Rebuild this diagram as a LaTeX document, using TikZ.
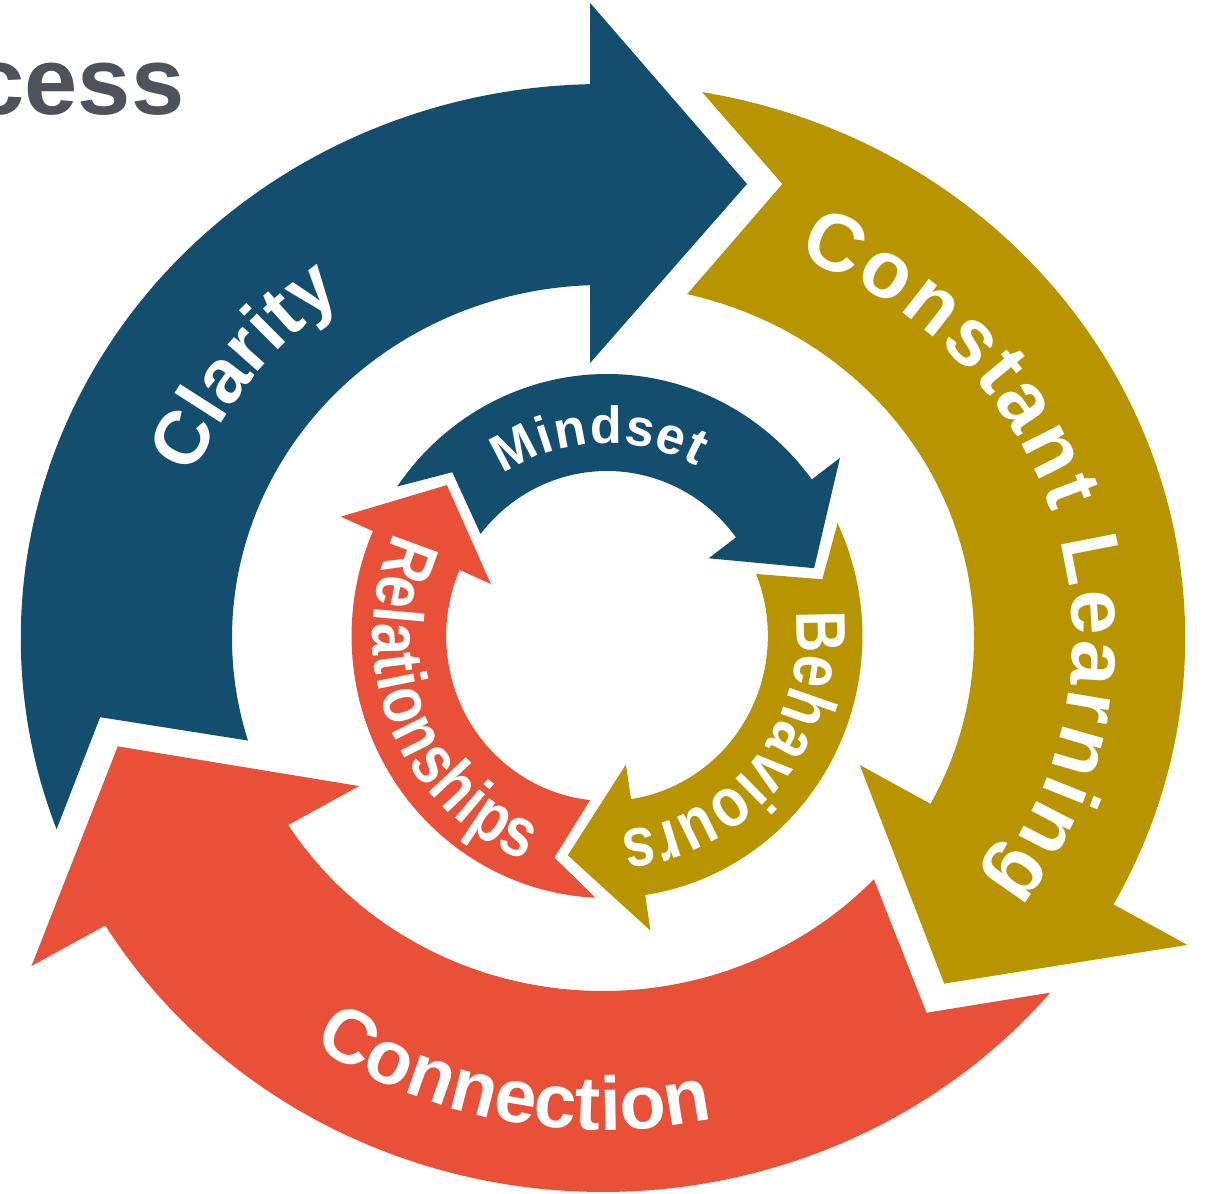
\documentclass[tikz,border=0pt]{standalone}
\usepackage{fontspec}
\setmainfont{Liberation Sans}
\newfontfamily\narrowsans{Liberation Sans}[FakeStretch=0.82]
\usetikzlibrary{decorations.text}

\definecolor{cblue}{HTML}{134E6F}
\definecolor{cgold}{HTML}{B89400}
\definecolor{cred}{HTML}{E85138}
\definecolor{cgrey}{HTML}{4E535B}

\newcommand\outerfont{\bfseries\fontsize{21.6}{24}\selectfont}
\newcommand\learnfont{\bfseries\fontsize{23}{25}\selectfont}
\newcommand\innerfont{\narrowsans\bfseries\fontsize{20}{22}\selectfont}
\newcommand\mindfont{\bfseries\fontsize{14.8}{16}\selectfont}

% one arrow of the outer ring, drawn with its head at the top
\newcommand\outerarrow[1]{%
  \fill[#1] (200.2:554) arc[start angle=200.2, end angle=91.26, radius=554]
    -- (-12.2,635) -- (137,454) -- (-12.2,275) -- (-12.2,352.8)
    arc[start angle=91.98, end angle=196.9, radius=353]
    -- (189.4:485) -- cycle;}

% one arrow of the inner ring: #1 angle of its head, #2 angle of the head before it, #3 colour
\newcommand\innerarrow[3]{%
  \fill[#3] ({#2-11.2}:262) arc[start angle={#2-11.2}, end angle={#1}, radius=262]
    -- ({#1}:298) -- ({#1-19}:223) -- ({#1}:130) -- ({#1}:165)
    arc[start angle={#1}, end angle={#2-14.6}, radius=165]
    -- ({#2-22.3}:228) -- cycle;}

\tikzset{
  arclabel/.style={decorate, decoration={text along path, text color=white}},
}

\begin{document}
\begin{tikzpicture}[x=0.01cm, y=0.01cm]
\useasboundingbox (0,0) rectangle (1205,1194);
\clip (0,0) rectangle (1205,1194);

% heading
\node[anchor=base east, inner sep=0, text=cgrey,
      font=\bfseries\fontsize{27.2}{30}\selectfont] (title) at (185,1079) {cess};

% outer ring
\begin{scope}[shift={(603,556)}, xscale=1.051]
  \outerarrow{cblue}
  \begin{scope}[rotate=-120]\outerarrow{cgold}\end{scope}
  \begin{scope}[rotate=120]\outerarrow{cred}\end{scope}

  \path[arclabel, decoration={text={|\outerfont|Clarity}, text align={center}}]
    (172:422) arc[start angle=172, end angle=112, radius=422];
  % this label runs on a circle whose centre lies a little right of the ring's
  \begin{scope}[shift={(40,0)}]
    \path[arclabel, decoration={text={|\learnfont|Constant Learning}, text align={fit to path}}]
      (69.2:407) arc[start angle=69.2, end angle=-37, radius=407];
  \end{scope}
  \path[arclabel, decoration={text={|\outerfont|Connection}, text align={center}}]
    (226:492) arc[start angle=226, end angle=292, radius=492];
\end{scope}

% inner ring
\begin{scope}[shift={(607,558)}, xscale=0.975]
  \innerarrow{36.7}{156.4}{cblue}
  \innerarrow{-81.4}{36.7}{cgold}
  \innerarrow{-203.6}{-81.4}{cred}

  \path[arclabel, decoration={text={|\mindfont|Mindset}, text align={fit to path}}]
    (123.5:193) arc[start angle=123.5, end angle=61.5, radius=193];
  \path[arclabel, decoration={text={|\innerfont|Behaviours}, text align={center}}]
    (20:195) arc[start angle=20, end angle=-99, radius=195];
  \path[arclabel, decoration={text={|\innerfont|Relationships}, text align={fit to path}}]
    (154.5:240) arc[start angle=154.5, end angle=249.5, radius=240];
\end{scope}
\end{tikzpicture}
\end{document}
